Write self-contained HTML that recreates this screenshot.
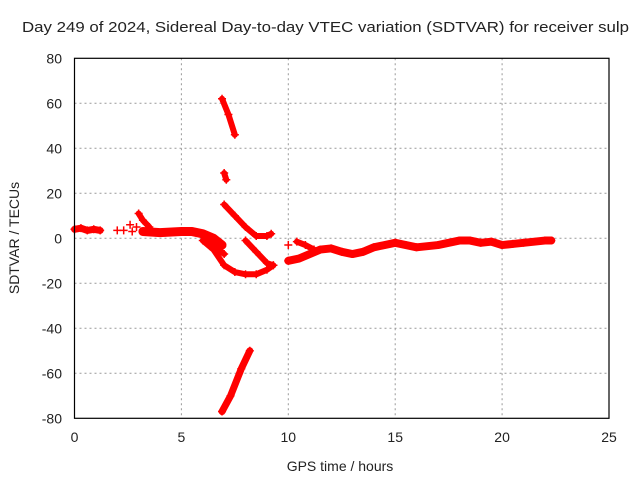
<!DOCTYPE html>
<html><head><meta charset="utf-8"><style>
body{margin:0;background:#fff}
svg text{font-family:"Liberation Sans",sans-serif;font-size:14px;fill:#222}
</style></head><body>
<svg id="chart" width="640" height="480">
<text x="22" y="32" textLength="607" lengthAdjust="spacingAndGlyphs" style="font-size:15px">Day 249 of 2024, Sidereal Day-to-day VTEC variation (SDTVAR) for receiver sulp</text>
<text x="340" y="471" text-anchor="middle">GPS time / hours</text>
<text transform="translate(19,238) rotate(-90)" text-anchor="middle">SDTVAR / TECUs</text>
<g id="grid"></g><g id="marks"></g>
<rect x="74.5" y="58.3" width="534.5" height="360" fill="none" stroke="#000" stroke-width="1.2"/>
</svg>
<script>
const xTicks=[0,5,10,15,20,25];
const yTicks=[80,60,40,20,0,-20,-40,-60,-80];
const seg1=[[0,4],[0.3,4.5],[0.6,3.5],[0.9,4],[1.2,3.5]];
const seg2=[[2,3.5],[2.3,3.5],[2.6,6],[2.9,5],[2.7,3]];
const seg3=[[3.0,11],[3.2,8],[3.5,5]];
const seg4=[[3.2,3],[4,2.5],[5,3],[5.5,3],[6,2],[6.5,0],[6.9,-3]];
const seg5=[[6,1],[6.5,-3],[7,-7]];
const seg6=[[6,-1],[6.5,-5],[7,-12],[7.5,-15],[8,-16],[8.5,-16],[9,-14],[9.3,-12]];
const seg7=[[8,-1],[8.5,-6],[9,-11],[9.3,-12]];
const seg8=[[7,15],[7.5,10],[8,5],[8.5,1],[9,1],[9.2,2]];
const seg9=[[7,29],[7.1,26]];
const seg10=[[6.9,62],[7.2,55],[7.5,46]];
const seg11=[[6.9,-77],[7.3,-70],[7.8,-58],[8.2,-50]];
const seg12=[[10.4,-1.5],[10.8,-3],[11.2,-5]];
const seg13=[[10,-10],[10.5,-9],[11,-7],[11.5,-5],[12,-4.5],[12.5,-6],[13,-7],[13.5,-6],[14,-4],[15,-2],[15.5,-3],[16,-4],[17,-3],[18,-1],[18.5,-1],[19,-2],[19.5,-1.5],[20,-3],[20.5,-2.5],[21,-2],[22,-1],[22.3,-1]];
const isolated=[[10,-3]];
const series=[seg1,seg3,seg4,seg5,seg6,seg7,seg8,seg9,seg10,seg11,seg12,seg13];
const widths=[7,6,9,6,6,6,6,6,6,7,6,8];
const X=v=>74.5+v*21.38, Y=v=>238.3-v*2.25;
const NS='http://www.w3.org/2000/svg';
const grid=document.getElementById('grid'),marks=document.getElementById('marks');
function mk(tag,at,par){const e=document.createElementNS(NS,tag);for(const k in at)e.setAttribute(k,at[k]);par.appendChild(e);return e;}
xTicks.forEach(t=>{
 if(t>0&&t<25){const l=mk('line',{x1:X(t),x2:X(t),y1:58.3,y2:418.3,stroke:'#999','stroke-dasharray':'2,3'},grid);
 
 }
 const tk=mk('text',{x:X(t),y:442,'text-anchor':'middle'},grid);tk.textContent=t;
 
 
});
yTicks.forEach(t=>{
 if(t<80&&t>-80){const l=mk('line',{x1:74.5,x2:609,y1:Y(t),y2:Y(t),stroke:'#999','stroke-dasharray':'2,3'},grid);
 
 }
 const tk=mk('text',{x:62,y:Y(t)+5,'text-anchor':'end'},grid);tk.textContent=t;
 
 
});
function plus(p){const g=mk('path',{d:`M${X(p[0])-4},${Y(p[1])}h8M${X(p[0])},${Y(p[1])-4}v8`,stroke:'#f00','stroke-width':1.5},marks);
 
 }
series.forEach((s,i)=>{
 const pl=mk('polyline',{points:s.map(p=>X(p[0])+','+Y(p[1])).join(' '),fill:'none',stroke:'#f00','stroke-width':widths[i],'stroke-linejoin':'round','stroke-linecap':'round'},marks);
 
 
 s.forEach(plus);
});
seg2.forEach(plus);isolated.forEach(plus);
</script>
</body></html>
